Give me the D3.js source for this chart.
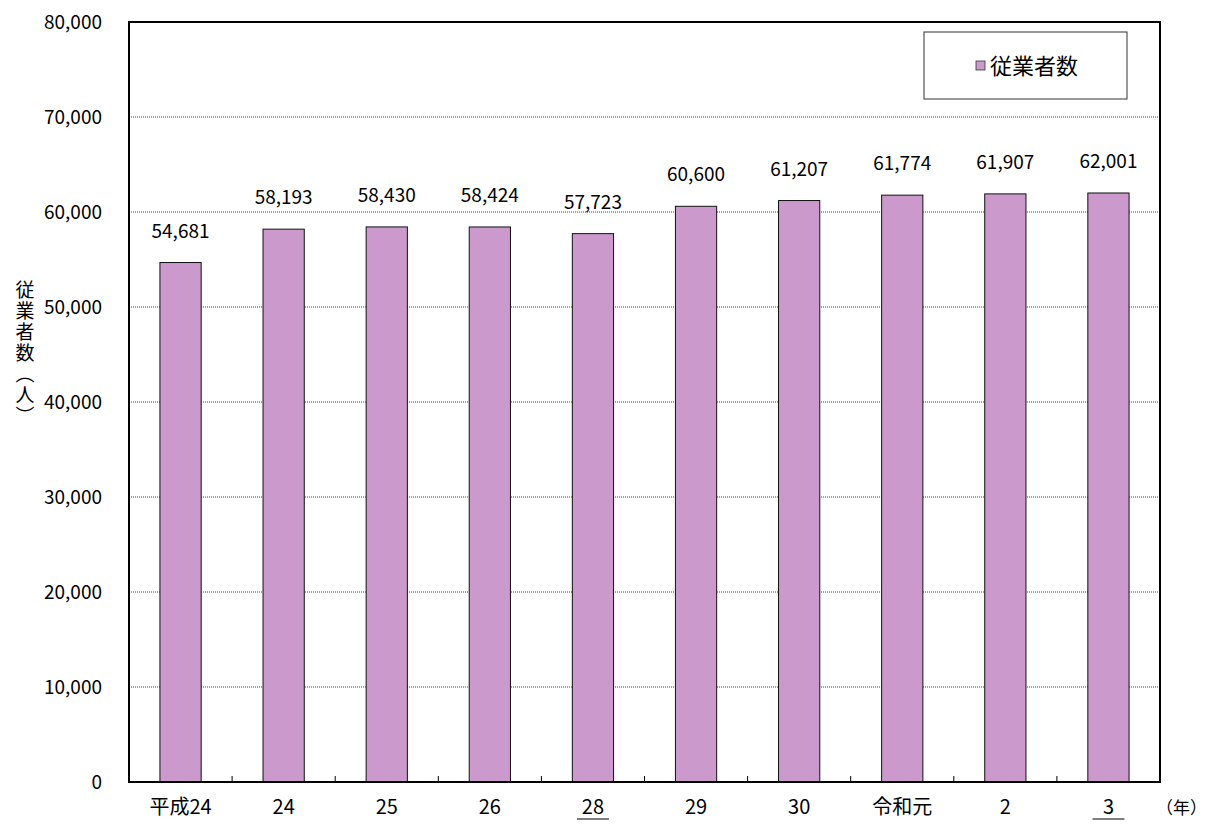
<!DOCTYPE html>
<html>
<head>
<meta charset="utf-8">
<script src="https://cdn.jsdelivr.net/npm/d3@7"></script>
<style>
  body { margin: 0; background: #fff; }
  text { font-family: "Noto Sans CJK JP", "DejaVu Sans", sans-serif; fill: #000; }
</style>
</head>
<body>
<svg id="chart" width="1209" height="825"></svg>
<script>
// chart data
var years = ["平成24", "24", "25", "26", "28", "29", "30", "令和元", "2", "3"];
var underlined = [false, false, false, false, true, false, false, false, false, true];
var workers = [54681, 58193, 58430, 58424, 57723, 60600, 61207, 61774, 61907, 62001];
var yTicks = [0, 10000, 20000, 30000, 40000, 50000, 60000, 70000, 80000];
var seriesName = "従業者数";
var yLabel = "従業者数（人）";

var svg = d3.select("#chart");
var margin = { top: 22, right: 49, bottom: 43, left: 129 };
var width = 1209 - margin.left - margin.right;
var height = 825 - margin.top - margin.bottom;

var g = svg.append("g")
  .attr("transform", "translate(" + margin.left + "," + margin.top + ")");

var x = d3.scaleBand()
  .domain(years.map(function(d, i) { return i; }))
  .range([0, width])
  .paddingInner(0.6)
  .paddingOuter(0.3);

var y = d3.scaleLinear()
  .domain([0, 80000])
  .range([height, 0]);

var fmt = d3.format(",");

// gridlines
g.selectAll(".grid")
  .data(yTicks.slice(1, -1))
  .enter()
  .append("line")
  .attr("x1", 0)
  .attr("x2", width)
  .attr("y1", function(d) { return y(d); })
  .attr("y2", function(d) { return y(d); })
  .attr("stroke", "#444")
  .attr("stroke-width", 1)
  .attr("stroke-dasharray", "1,1");

// bars
g.selectAll(".bar")
  .data(workers)
  .enter()
  .append("rect")
  .attr("x", function(d, i) { return x(i); })
  .attr("y", function(d) { return y(d); })
  .attr("width", x.bandwidth())
  .attr("height", function(d) { return height - y(d); })
  .attr("fill", "#cc99cc")
  .attr("stroke", "#111")
  .attr("stroke-width", 1);

// value labels
g.selectAll(".val")
  .data(workers)
  .enter()
  .append("text")
  .attr("x", function(d, i) { return x(i) + x.bandwidth() / 2; })
  .attr("y", function(d) { return y(d) - 25; })
  .attr("text-anchor", "middle")
  .style("font-size", "19px")
  .text(function(d) { return fmt(d); });

// category boundary ticks
var step = x.step();
g.selectAll(".ctick")
  .data(d3.range(1, years.length))
  .enter()
  .append("line")
  .attr("x1", function(d) { return d * step; })
  .attr("x2", function(d) { return d * step; })
  .attr("y1", height)
  .attr("y2", height - 6)
  .attr("stroke", "#000");

// y axis labels
var yAxis = d3.axisLeft(y).tickValues(yTicks).tickFormat(fmt).tickSize(0).tickPadding(27);
var ya = g.append("g").call(yAxis);
ya.select(".domain").remove();
ya.selectAll("text")
  .style("font-size", "19px")
  .style("font-family", "\"Noto Sans CJK JP\", sans-serif");

// x labels
g.selectAll(".xlab")
  .data(years)
  .enter()
  .append("text")
  .attr("x", function(d, i) { return x(i) + x.bandwidth() / 2; })
  .attr("y", height + 32)
  .attr("text-anchor", "middle")
  .style("font-size", "20px")
  .text(function(d) { return d; });

// underlines under some year labels
g.selectAll(".uline")
  .data(years.map(function(d, i) { return i; }).filter(function(i) { return underlined[i]; }))
  .enter()
  .append("line")
  .attr("x1", function(i) { return x(i) + x.bandwidth() / 2 - 16; })
  .attr("x2", function(i) { return x(i) + x.bandwidth() / 2 + 16; })
  .attr("y1", height + 37)
  .attr("y2", height + 37)
  .attr("stroke", "#000")
  .attr("stroke-width", 1.2);

g.append("text")
  .attr("x", width - 4)
  .attr("y", height + 32)
  .attr("text-anchor", "start")
  .style("font-size", "17px")
  .text("（年）");

// frame
g.append("rect")
  .attr("x", 0)
  .attr("y", 0)
  .attr("width", width)
  .attr("height", height)
  .attr("fill", "none")
  .attr("stroke", "#000")
  .attr("stroke-width", 2);

// legend
var leg = svg.append("g").attr("transform", "translate(924,32)");
leg.append("rect")
  .attr("width", 203)
  .attr("height", 67)
  .attr("fill", "#fff")
  .attr("stroke", "#333")
  .attr("stroke-width", 1);
leg.append("rect")
  .attr("x", 52)
  .attr("y", 29)
  .attr("width", 9)
  .attr("height", 9)
  .attr("fill", "#cc99cc")
  .attr("stroke", "#333")
  .attr("stroke-width", 0.8);
leg.append("text")
  .attr("x", 66)
  .attr("y", 42)
  .style("font-size", "22px")
  .text(seriesName);

// vertical y label
svg.append("text")
  .attr("x", 25)
  .attr("y", 280)
  .attr("writing-mode", "vertical-rl")
  .style("font-size", "19px")
  .style("letter-spacing", "2px")
  .text(yLabel);
</script>
</body>
</html>
